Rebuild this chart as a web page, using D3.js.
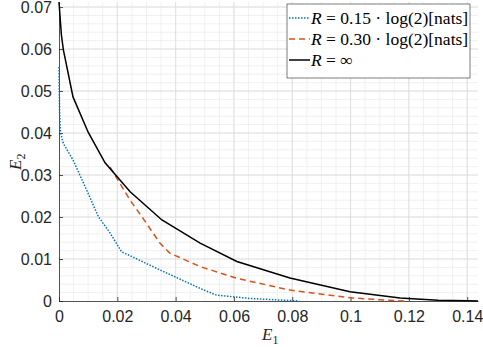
<!DOCTYPE html>
<html lang="en">
<head>
<meta charset="UTF-8">
<script src="https://cdn.jsdelivr.net/npm/d3@7"></script>
<style>
  body { margin: 0; background: #fff; }
  text { font-family: "Liberation Sans", Helvetica, Arial, sans-serif; }
  .tex { font-family: "Liberation Serif", "Times New Roman", serif; }
</style>
</head>
<body>
<svg id="chart" width="483" height="347"></svg>
<script>
  // values
  const infE1 = [0, 0.0008, 0.0015, 0.0048, 0.01, 0.0158, 0.0244, 0.0353, 0.0484, 0.061, 0.0792, 0.0998, 0.117, 0.13, 0.14, 0.1437];
  const infE2 = [0.0712, 0.0635, 0.0598, 0.0486, 0.0402, 0.0329, 0.026, 0.0193, 0.0138, 0.0094, 0.0055, 0.0022, 0.0007, 0.0002, 0.00005, 0];

  const r30E1 = [0.0175, 0.0244, 0.0284, 0.0346, 0.038, 0.0484, 0.061, 0.0792, 0.0998, 0.112, 0.1193];
  const r30E2 = [0.0319, 0.024, 0.0201, 0.0138, 0.0114, 0.0082, 0.0054, 0.0026, 0.0008, 0.0002, 0];

  const r15E1 = [0, 0.0002, 0.0005, 0.0015, 0.0048, 0.0095, 0.0135, 0.0175, 0.0215, 0.0237, 0.0346, 0.0484, 0.054, 0.0655, 0.0824];
  const r15E2 = [0.0557, 0.045, 0.0402, 0.0375, 0.0336, 0.0264, 0.0201, 0.0162, 0.0117, 0.011, 0.0074, 0.003, 0.0014, 0.0006, 0];

  const xTicks = [0, 0.02, 0.04, 0.06, 0.08, 0.1, 0.12, 0.14];
  const yTicks = [0, 0.01, 0.02, 0.03, 0.04, 0.05, 0.06, 0.07];

  const svg = d3.select("#chart");
  const mL = 59, mR = 478, mT = 2, mB = 301;

  const x = d3.scaleLinear().domain([0, 0.1437]).range([mL, mR]);
  const y = d3.scaleLinear().domain([0, 0.0712]).range([mB, mT]);

  // minor grid
  const grid = svg.append("g");
  grid.selectAll(".mx").data(d3.range(0.005, 0.1437, 0.005)).enter().append("line")
    .attr("x1", d => x(d)).attr("x2", d => x(d)).attr("y1", mT).attr("y2", mB)
    .attr("stroke", "#ececec").attr("stroke-width", 0.8);
  grid.selectAll(".my").data(d3.range(0.002, 0.0712, 0.002)).enter().append("line")
    .attr("y1", d => y(d)).attr("y2", d => y(d)).attr("x1", mL).attr("x2", mR)
    .attr("stroke", "#ececec").attr("stroke-width", 0.8);
  // major grid
  grid.selectAll(".gx").data(xTicks.slice(1)).enter().append("line")
    .attr("x1", d => x(d)).attr("x2", d => x(d)).attr("y1", mT).attr("y2", mB)
    .attr("stroke", "#dcdcdc").attr("stroke-width", 0.8);
  grid.selectAll(".gy").data(yTicks.slice(1)).enter().append("line")
    .attr("y1", d => y(d)).attr("y2", d => y(d)).attr("x1", mL).attr("x2", mR)
    .attr("stroke", "#dcdcdc").attr("stroke-width", 0.8);

  // axes
  const xAxis = svg.append("g").attr("transform", `translate(0,${mB})`)
    .call(d3.axisBottom(x).tickValues(xTicks).tickSize(-4).tickPadding(10).tickFormat(d3.format("~g")).tickSizeOuter(0));
  const yAxis = svg.append("g").attr("transform", `translate(${mL},0)`)
    .call(d3.axisLeft(y).tickValues(yTicks).tickSize(-4).tickPadding(7).tickFormat(d3.format("~g")).tickSizeOuter(0));
  [xAxis, yAxis].forEach(a => {
    a.select(".domain").attr("stroke", "#262626").attr("stroke-width", 0.8);
    a.selectAll(".tick line").attr("stroke", "#262626").attr("stroke-width", 0.8);
    a.selectAll(".tick text").attr("fill", "#262626").style("font-size", "16px")
      .style("font-family", "'Liberation Sans', Helvetica, Arial, sans-serif");
  });

  // lines
  const line = d3.line().x(d => x(d[0])).y(d => y(d[1]));
  const plot = svg.append("g");
  plot.append("path").datum(d3.zip(r15E1, r15E2)).attr("d", line)
    .attr("fill", "none").attr("stroke", "#0072BD").attr("stroke-width", 1.5).attr("stroke-dasharray", "1.5,1.5");
  plot.append("path").datum(d3.zip(r30E1, r30E2)).attr("d", line)
    .attr("fill", "none").attr("stroke", "#D95319").attr("stroke-width", 1.5).attr("stroke-dasharray", "6,4");
  plot.append("path").datum(d3.zip(infE1, infE2)).attr("d", line)
    .attr("fill", "none").attr("stroke", "#000").attr("stroke-width", 1.5);

  // axis labels
  const xl = svg.append("text").attr("class", "tex").attr("x", 262).attr("y", 340).style("font-size", "17px").attr("fill", "#262626");
  xl.append("tspan").style("font-style", "italic").text("E");
  xl.append("tspan").attr("dy", 4).style("font-size", "12px").text("1");

  const yl = svg.append("text").attr("class", "tex").attr("transform", "translate(21,170) rotate(-90)").style("font-size", "17px").attr("fill", "#262626");
  yl.append("tspan").style("font-style", "italic").text("E");
  yl.append("tspan").attr("dy", 4).style("font-size", "12px").text("2");

  // legend
  const leg = svg.append("g");
  leg.append("rect").attr("x", 287).attr("y", 4).attr("width", 183).attr("height", 74)
    .attr("fill", "#fff").attr("stroke", "#262626").attr("stroke-width", 0.6);
  const entries = [
    { color: "#0072BD", dash: "1.5,1.5", val: "0.15", inf: false },
    { color: "#D95319", dash: "6,4", val: "0.30", inf: false },
    { color: "#000", dash: null, val: null, inf: true }
  ];
  entries.forEach((e, i) => {
    const cy = 18 + i * 21;
    leg.append("line").attr("x1", 289).attr("x2", 310).attr("y1", cy).attr("y2", cy)
      .attr("stroke", e.color).attr("stroke-width", 1.5).attr("stroke-dasharray", e.dash);
    const t = leg.append("text").attr("class", "tex").attr("x", 311).attr("y", cy + 6)
      .style("font-size", "17.5px").attr("fill", "#000");
    t.append("tspan").style("font-style", "italic").text("R");
    if (e.inf) {
      t.append("tspan").text(" = ∞");
    } else {
      t.append("tspan").text(" = " + e.val + " · log(2)[nats]");
    }
  });
</script>
</body>
</html>
